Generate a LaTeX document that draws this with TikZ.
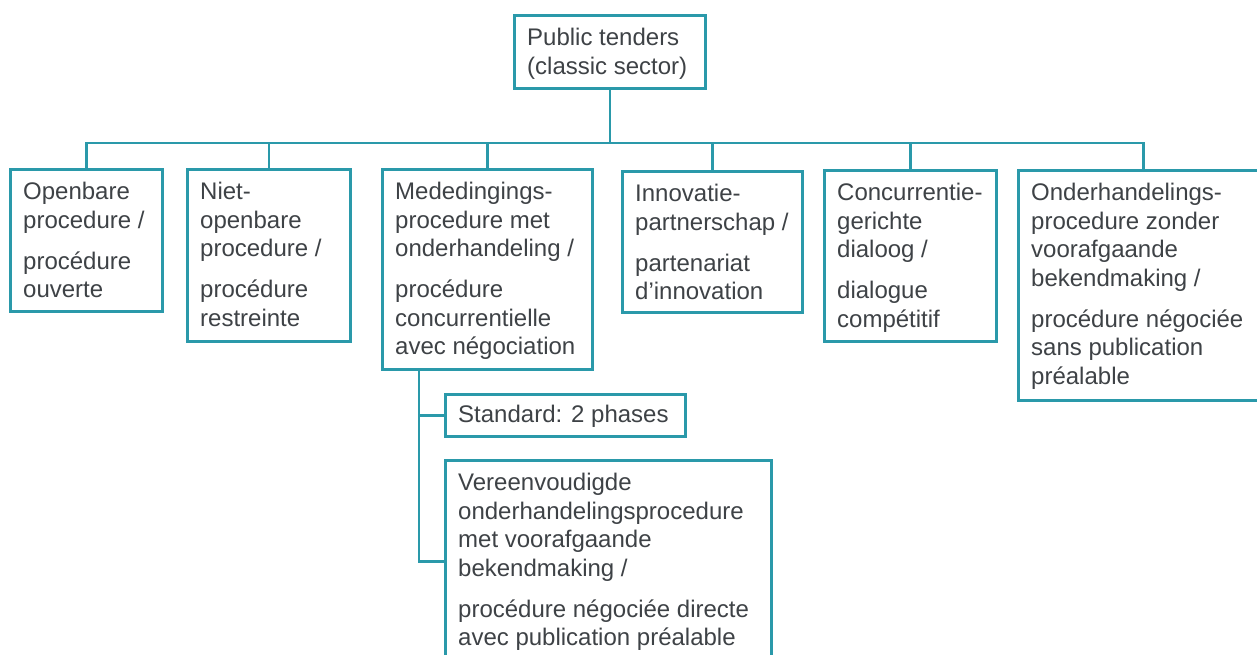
\documentclass[tikz,border=0pt]{standalone}
\usepackage{fontspec}
\setmainfont{Liberation Sans}
\definecolor{lineC}{RGB}{42,153,170}
\definecolor{textC}{RGB}{62,66,70}
\begin{document}
\begin{tikzpicture}[x=1pt,y=-1pt,
  box/.style={draw=lineC, line width=2.8pt, rectangle, inner sep=0pt, anchor=north west},
  txt/.style={anchor=north west, inner sep=0pt, align=left, text=textC, font=\fontsize{24}{28.5}\selectfont},
  conn/.style={draw=lineC, line width=2.8pt}]
\path[use as bounding box, clip] (0,0) rectangle (1257,655);
\fill[white] (0,0) rectangle (1257,655);
% boxes
\node[box, minimum width=191, minimum height=73]  (top) at (513,14) {};
\node[box, minimum width=152, minimum height=142] (b1) at (9,168) {};
\node[box, minimum width=163, minimum height=172] (b2) at (186,168) {};
\node[box, minimum width=210, minimum height=200] (b3) at (381,168) {};
\node[box, minimum width=180, minimum height=141] (b4) at (621,170) {};
\node[box, minimum width=172, minimum height=171] (b5) at (823,169) {};
\node[box, minimum width=250, minimum height=230] (b6) at (1017,169) {};
\node[box, minimum width=240, minimum height=42]  (s1) at (444,393) {};
\node[box, minimum width=326, minimum height=202] (s2) at (444,459) {};
% texts
\node[txt] (ttop) at (527,28) {Public tenders\\(classic sector)};
\node[txt] (t1) at (23,182) {Openbare\\procedure /\\[12.5pt]procédure\\ouverte};
\node[txt] (t2) at (200,182) {Niet-\\openbare\\procedure /\\[12.5pt]procédure\\restreinte};
\node[txt] (t3) at (395,182) {Mededingings-\\procedure met\\onderhandeling /\\[12.5pt]procédure\\concurrentielle\\avec négociation};
\node[txt] (t4) at (635,184) {Innovatie-\\partnerschap /\\[12.5pt]partenariat\\d’innovation};
\node[txt] (t5) at (837,183) {Concurrentie-\\gerichte\\dialoog /\\[12.5pt]dialogue\\compétitif};
\node[txt] (t6) at (1031,183) {Onderhandelings-\\procedure zonder\\voorafgaande\\bekendmaking /\\[12.5pt]procédure négociée\\sans publication\\préalable};
\node[txt] (ts1) at (458,405) {Standard: 2 phases};
\node[txt] (ts2) at (458,473) {Vereenvoudigde\\onderhandelingsprocedure\\met voorafgaande\\bekendmaking /\\[12.5pt]procédure négociée directe\\avec publication préalable};
% connectors
\coordinate (bus) at (0,143);
\coordinate (trunk) at (419,0);
\draw[conn] (top.south) -- (top.south |- bus);
\draw[conn] (b1.north) -- (b1.north |- bus) -- (b6.north |- bus) -- (b6.north);
\draw[conn] (b2.north) -- (b2.north |- bus);
\draw[conn] (b3.north) -- (b3.north |- bus);
\draw[conn] (b4.north) -- (b4.north |- bus);
\draw[conn] (b5.north) -- (b5.north |- bus);
\draw[conn] (b3.south -| trunk) |- (s2.west);
\draw[conn] (trunk |- s1.west) -- (s1.west);
\end{tikzpicture}
\end{document}
